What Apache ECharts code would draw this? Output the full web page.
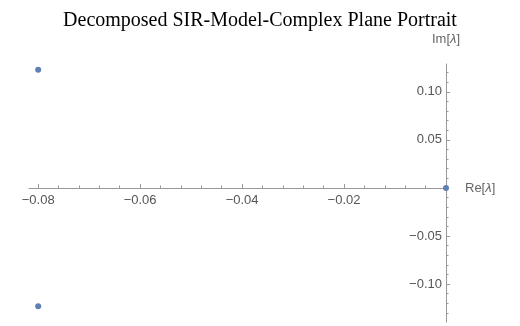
<!DOCTYPE html>
<html lang="en" style="height: 100%">
<head>
    <meta charset="utf-8">
    <title>Decomposed SIR-Model-Complex Plane Portrait</title>
    <script src="https://cdn.jsdelivr.net/npm/echarts@6/dist/echarts.min.js"></script>
</head>
<body style="height: 100%; margin: 0; background: #fff">
    <div id="main" style="width: 520px; height: 326px"></div>
    <script>
        // eigenvalues (real / imaginary parts)
        const reParts = [-0.08, -0.08, 0];
        const imParts = [0.123, -0.123, 0];

        // tick marks
        const xMajorTicks = [-0.08, -0.06, -0.04, -0.02];
        const xMinorTicks = [-0.076, -0.072, -0.068, -0.064, -0.056, -0.052, -0.048, -0.044,
            -0.036, -0.032, -0.028, -0.024, -0.016, -0.012, -0.008, -0.004];
        const yMajorTicks = [-0.10, -0.05, 0.05, 0.10];
        const yMinorTicks = [-0.13, -0.12, -0.11, -0.09, -0.08, -0.07, -0.06, -0.04, -0.03, -0.02, -0.01,
            0.01, 0.02, 0.03, 0.04, 0.06, 0.07, 0.08, 0.09, 0.11, 0.12];

        const axisColor = '#999';
        const labelColor = '#555';
        const fmt = v => v.toFixed(2).replace('-', '\u2212');

        const points = reParts.map((re, i) => [re, imParts[i]]);

        // plot area (x = 0 sits on the right edge, y = 0 inside)
        const gridTop = 64, gridBottom = 4, gridLeft = 29, gridRight = 74;
        const yMin = -0.1395, yMax = 0.129;
        const gridH = 326 - gridTop - gridBottom;
        const xAxisOffset = -(gridH * (0 - yMin) / (yMax - yMin));

        const nameRich = {
            n: { color: '#666', fontFamily: 'Liberation Sans', fontSize: 13 },
            l: { color: '#666', fontFamily: 'Liberation Sans', fontSize: 13, fontStyle: 'italic' }
        };

        const myChart = echarts.init(document.getElementById('main'), null, { renderer: 'canvas' });

        const xBase = {
            type: 'value',
            min: -0.0818,
            max: 0,
            position: 'bottom',
            offset: xAxisOffset,
            splitLine: { show: false },
            axisLine: { onZero: false, lineStyle: { color: axisColor, width: 1 } }
        };
        const yBase = {
            type: 'value',
            min: yMin,
            max: yMax,
            position: 'right',
            splitLine: { show: false },
            axisLine: { onZero: false, lineStyle: { color: axisColor, width: 1 } }
        };

        myChart.setOption({
            animation: false,
            title: {
                text: 'Decomposed SIR-Model-Complex Plane Portrait',
                left: 'center',
                top: 6,
                textStyle: {
                    fontFamily: 'Liberation Serif',
                    fontSize: 20,
                    fontWeight: 'normal',
                    color: '#000'
                }
            },
            grid: {
                left: gridLeft,
                right: gridRight,
                top: gridTop,
                bottom: gridBottom,
                outerBoundsMode: 'none'
            },
            xAxis: [
                Object.assign({}, xBase, {
                    name: '{n|Re[}{l|\u03bb}{n|]}',
                    nameLocation: 'end',
                    nameGap: 19,
                    nameTextStyle: { rich: nameRich },
                    axisTick: { show: true, inside: true, length: 4, customValues: xMajorTicks, lineStyle: { color: axisColor } },
                    axisLabel: {
                        customValues: xMajorTicks, formatter: fmt, margin: 6,
                        color: labelColor, fontFamily: 'Liberation Sans', fontSize: 13
                    }
                }),
                Object.assign({}, xBase, {
                    axisLine: { show: false, onZero: false },
                    axisTick: { show: true, inside: true, length: 2.5, customValues: xMinorTicks, lineStyle: { color: axisColor } },
                    axisLabel: { show: false }
                })
            ],
            yAxis: [
                Object.assign({}, yBase, {
                    name: '{n|Im[}{l|\u03bb}{n|]}',
                    nameLocation: 'end',
                    nameGap: 18,
                    nameTextStyle: { rich: nameRich, align: 'center' },
                    axisTick: { show: true, inside: false, length: 4, customValues: yMajorTicks, lineStyle: { color: axisColor } },
                    axisLabel: {
                        inside: true,
                        customValues: yMajorTicks, formatter: fmt, margin: 4,
                        color: labelColor, fontFamily: 'Liberation Sans', fontSize: 13
                    }
                }),
                Object.assign({}, yBase, {
                    axisLine: { show: false, onZero: false },
                    axisTick: { show: true, inside: false, length: 2.5, customValues: yMinorTicks, lineStyle: { color: axisColor } },
                    axisLabel: { show: false }
                })
            ],
            series: [{
                type: 'scatter',
                xAxisIndex: 0,
                yAxisIndex: 0,
                symbolSize: 6,
                itemStyle: { color: '#5E81B5', opacity: 1 },
                data: points,
                z: 5
            }]
        });
    </script>
</body>
</html>
